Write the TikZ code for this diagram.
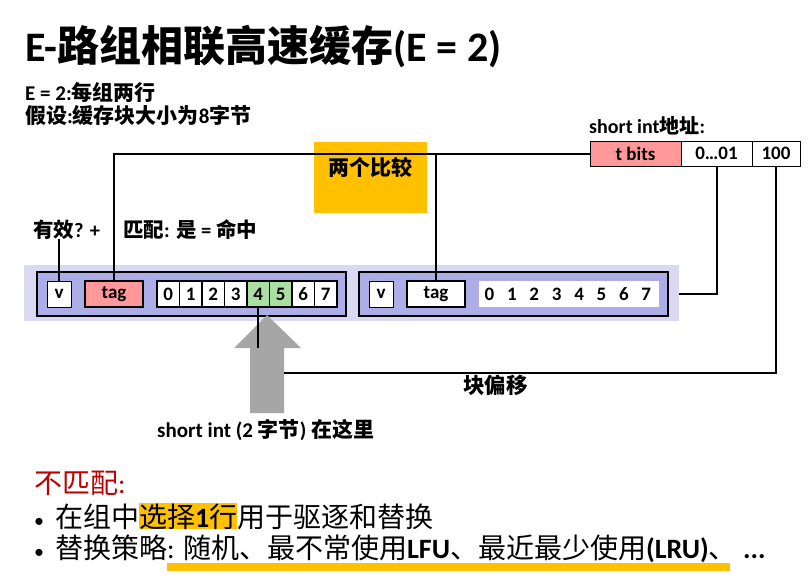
\documentclass[tikz,border=0pt]{standalone}
\usepackage{fontspec}
\setmainfont{Carlito}
\newfontfamily\cjk{Noto Sans CJK SC}
\newcommand{\zh}[1]{{\cjk #1}}
\newcommand{\dotmark}{{\fontsize{20}{20}\selectfont•}\hspace{11pt}}
\usetikzlibrary{positioning}
\definecolor{tagpink}{HTML}{FF9999}
\definecolor{hitgreen}{HTML}{A9DFA0}
\definecolor{setband}{HTML}{D9D9F3}
\definecolor{linefill}{HTML}{ADADE8}
\definecolor{hlyellow}{HTML}{FFC000}
\definecolor{arrowgray}{HTML}{A6A6A6}
\definecolor{missred}{HTML}{C00000}
\tikzset{
  txt/.style={anchor=base west,inner sep=0pt,font=\fontsize{#1}{#1}\selectfont\bfseries},
  txt/.default={21},
  plaintxt/.style={anchor=base west,inner sep=0pt,font=\fontsize{28}{30}\selectfont},
  boxbase/.style={anchor=north west,inner sep=0pt,outer sep=0pt,
    font=\fontsize{19}{19}\selectfont\bfseries,minimum height=26pt},
  vbox/.style={boxbase,draw=black,fill=white,line width=1pt,minimum width=24pt},
  tagbox/.style={boxbase,draw=black,fill=#1,line width=2pt,minimum width=58pt},
  tagbox/.default=white,
  cellbox/.style={boxbase,draw=black,fill=#1,line width=1.5pt,minimum width=22.5pt},
  cellbox/.default=white,
  addrbox/.style={boxbase,draw=black,fill=#1,line width=1pt,minimum height=25pt},
  addrbox/.default=white,
  linebox/.style={anchor=north west,draw=black,fill=linefill,line width=2.5pt,
    minimum width=309pt,minimum height=44pt,inner sep=0pt,outer sep=0pt},
  wire/.style={line width=2pt,draw=black},
}

\begin{document}
\begin{tikzpicture}[x=1pt,y=-1pt]
  \useasboundingbox[fill=white] (0,0) rectangle (811,586);
  % heading and notes
  \node[txt=42] (title) at (25,62) {E-\zh{路组相联高速缓存}(E = 2)};
  \node[txt] (note1) at (25,100) {E = 2:\zh{每组两行}};
  \node[txt] (note2) at (25,123) {\zh{假设}:\zh{缓存块大小为}8\zh{字节}};
  \node[txt=20] (addrlbl) at (589,133) {short int\zh{地址}:};
  % address fields
  \node[addrbox=tagpink,minimum width=91pt] (tbits) at (590,141) {t bits};
  \node[addrbox,minimum width=71pt] (off) at (681,141) {0…01};
  \node[addrbox,minimum width=48pt] (blk) at (752,141) {100};
  % comparison box
  \node[anchor=north west,fill=hlyellow,minimum width=113pt,minimum height=71pt,inner sep=0pt] (cmp) at (314,142) {};
  \node[txt,anchor=base] (cmplbl) at (370,175) {\zh{两个比较}};
  \node[txt=20.5] (valid) at (33,237) {\zh{有效}? +};
  \node[txt=20.5] (match) at (123,237) {\zh{匹配}: \zh{是} = \zh{命中}};
  % the set with two lines
  \node[anchor=north west,fill=setband,minimum width=655pt,minimum height=56pt,inner sep=0pt,outer sep=0pt] (band) at (24,265) {};
  \node[linebox] (line1) at (37,272) {};
  \node[linebox] (line2) at (359,272) {};
  \node[vbox] (v1) at (47,281) {v};
  \node[tagbox=tagpink] (tag1) at (85,281) {tag};
  \foreach \i/\c in {0/white,1/white,2/white,3/white,4/hitgreen,5/hitgreen,6/white,7/white}
    \node[cellbox=\c] (c\i) at ({157+22.5*\i},281) {\i};
  \node[vbox] (v2) at (369,281) {v};
  \node[tagbox] (tag2) at (407,281) {tag};
  \node[boxbase,fill=white,minimum width=180pt] (data2) at (479,281) {};
  \foreach \i in {0,...,7}
    \node[txt=19,anchor=center] (d\i) at ({489.5+22.4*\i},294) {\i};
  % block arrow
  \coordinate (tip) at (267,315);
  \coordinate (headL) at (234,348);
  \coordinate (shaftR) at (284,373);
  \fill[arrowgray] (tip) -- (301,348) -- (284,348) -- (284,413) -- (250,413)
    -- (250,348) -- (headL) -- cycle;
  % wires
  \draw[wire] (tbits.west) -| (tag1.north);
  \draw[wire] (tag2.north |- tbits.west) -- (tag2.north);
  \draw[wire] (v1.north) -- (v1.north |- valid.south);
  \draw[wire] (band.east |- line2.east) -| (off.south);
  \draw[wire] (blk.south) |- (shaftR);
  \draw[wire] (c4.south) -- (c4.south |- headL);
  \node[txt=21.5] (offlbl) at (463,393) {\zh{块偏移}};
  \node[txt] (here) at (157,437) {short int (2 \zh{字节}) \zh{在这里}};
  % miss handling
  \node[plaintxt,text=missred] (miss) at (34,493) {\zh{不匹配}:};
  \node[plaintxt] (evict) at (34,527) {\dotmark\zh{在组中}{\fboxsep=0pt\colorbox{hlyellow}{\zh{选择}\textbf{1}\zh{行}}}\zh{用于驱逐和替换}};
  \fill[hlyellow] (167,563) rectangle (730,571);
  \node[plaintxt] (policy) at (34,558) {\dotmark\zh{替换策略}: \zh{随机、最不常使用}\textbf{LFU}\zh{、最近最少使用}\textbf{(LRU)}\zh{、} \textbf{...}};
\end{tikzpicture}
\end{document}
